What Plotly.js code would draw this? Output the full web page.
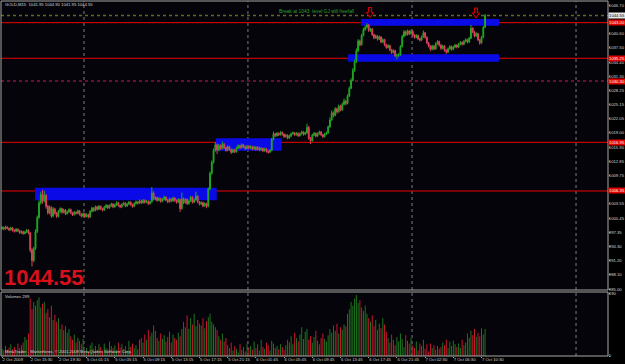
<!DOCTYPE html>
<html><head><meta charset="utf-8">
<script src="https://cdn.plot.ly/plotly-3.0.1.min.js"></script>
<style>html,body{margin:0;padding:0;background:#000;}#chart{width:625px;height:364px;}</style>
</head><body><div id="chart"></div>
<script>
// ---- data ----
const tickIdx = [0,16,32,48,64,80,96,112,128,144,160,176,192,208,224,240,256,272];
const tickText = ["2 Oct 2009","2 Oct 15:30","2 Oct 19:30","5 Oct 01:15","5 Oct 05:15","5 Oct 09:15","5 Oct 13:15","5 Oct 17:15","5 Oct 21:15","6 Oct 01:45","6 Oct 05:45","6 Oct 09:45","6 Oct 13:45","6 Oct 17:45","6 Oct 21:45","7 Oct 02:30","7 Oct 06:30","7 Oct 10:30"];
const priceTicks = [1046.70,1040.60,1037.50,1034.40,1031.30,1028.25,1025.15,1022.05,1019.00,1015.90,1012.85,1009.75,1003.55,1000.45,997.35,994.30,991.20,988.10,985.00];
const volTicks = [0,690];
const levels = [1043.00,1035.25,1030.30,1016.95,1006.35];
const bidPrice = 1044.55;
const dayLines = [46.5,139.5,232.6,325.6];
const zones = [[203.6,281.9,1042.35,1043.80],[196.3,281.9,1034.50,1036.12],[121.2,158.7,1015.12,1017.82],[18.7,121.8,1004.32,1007.07]];

const open = [998.2,998.4,998.1,998.5,998.2,997.9,998.3,997.8,997.6,998.0,
997.7,997.3,997.5,997.1,997.4,997.8,997.2,993.5,991.2,993.8,
997.5,1000.6,1003.8,1005.6,1004.2,1005.4,1003.0,1001.6,1002.8,1000.9,
1002.4,1001.5,1000.8,1001.9,1002.5,1001.7,1002.2,1001.4,1001.8,1002.3,
1001.6,1001.2,1001.7,1001.5,1002.0,1001.3,1000.9,1001.4,1000.8,1001.2,
1000.7,1001.9,1002.6,1002.1,1002.9,1002.4,1003.0,1002.5,1002.2,1002.8,
1003.2,1002.7,1003.1,1003.5,1002.9,1003.3,1003.8,1003.2,1002.9,1003.4,
1003.7,1003.1,1003.5,1003.9,1003.4,1003.0,1003.6,1004.0,1003.7,1004.2,
1003.8,1004.3,1003.9,1004.1,1003.6,1004.0,1005.9,1004.6,1004.9,1004.3,
1004.7,1004.1,1004.5,1005.0,1004.4,1004.0,1004.6,1004.2,1004.8,1004.3,
1003.9,1004.5,1002.5,1004.6,1003.8,1004.5,1003.6,1004.2,1005.0,1003.9,
1004.4,1005.2,1004.0,1003.5,1003.8,1003.1,1003.6,1003.0,1006.8,1010.2,
1012.6,1015.2,1016.4,1015.3,1016.2,1015.6,1016.5,1015.8,1015.2,1016.0,
1015.4,1014.8,1015.3,1014.9,1015.7,1016.2,1015.8,1016.4,1016.0,1015.6,
1016.1,1015.7,1016.0,1015.5,1015.9,1015.4,1015.8,1015.3,1015.6,1015.1,
1015.5,1015.0,1014.8,1015.2,1017.6,1018.8,1018.4,1018.9,1018.6,1019.1,
1018.7,1018.2,1018.5,1017.9,1018.3,1018.8,1019.0,1018.6,1018.9,1018.4,
1018.8,1019.2,1018.7,1019.0,1020.2,1017.8,1017.3,1018.5,1018.9,1018.3,
1018.8,1019.2,1018.6,1018.2,1018.7,1019.0,1020.3,1021.8,1023.4,1022.8,
1024.2,1023.6,1024.8,1024.0,1025.2,1025.9,1025.4,1027.0,1028.7,1030.4,
1032.6,1034.5,1036.9,1039.0,1038.2,1040.2,1041.5,1042.0,1042.5,1041.3,
1041.6,1040.4,1039.7,1040.1,1039.4,1039.9,1038.8,1039.3,1038.2,1037.6,
1038.0,1037.1,1036.5,1036.9,1035.8,1035.9,1036.0,1037.8,1040.0,1041.0,
1040.4,1041.2,1040.6,1041.1,1040.3,1039.8,1040.2,1039.5,1039.2,1039.9,
1040.8,1039.8,1038.6,1037.9,1037.2,1037.9,1037.3,1038.4,1038.9,1038.1,
1037.4,1037.9,1037.0,1036.6,1037.3,1037.8,1037.2,1037.7,1038.1,1037.7,
1038.3,1038.7,1038.3,1038.9,1039.3,1038.8,1039.6,1041.8,1041.0,1040.1,
1040.6,1039.3,1038.6,1039.8,1041.95];

const high = [998.7,998.6,998.8,998.7,998.4,998.6,998.5,998.0,998.3,998.2,
997.9,997.8,997.7,997.7,998.1,998.0,997.4,993.9,994.2,998.0,
1001.0,1004.3,1006.2,1006.6,1006.4,1005.7,1003.3,1003.2,1003.0,1002.8,
1002.7,1001.8,1002.2,1002.8,1002.7,1002.5,1002.4,1002.1,1002.6,1002.5,
1001.8,1002.0,1001.9,1002.3,1002.2,1001.5,1001.7,1001.6,1001.5,1001.4,
1002.2,1002.9,1002.8,1003.2,1003.1,1003.3,1003.2,1002.7,1003.1,1003.5,
1003.4,1003.4,1003.8,1003.7,1003.6,1004.1,1004.0,1003.4,1003.7,1004.0,
1003.9,1003.8,1004.2,1004.1,1003.6,1003.9,1004.3,1004.2,1004.5,1004.4,
1004.6,1004.5,1004.4,1004.3,1004.3,1007.2,1006.3,1005.2,1005.1,1005.0,
1004.9,1004.8,1005.3,1005.2,1004.6,1004.9,1004.8,1005.1,1005.0,1004.5,
1004.8,1004.7,1006.0,1004.9,1004.8,1004.7,1004.5,1005.3,1005.2,1004.7,
1006.2,1005.4,1004.2,1004.1,1004.0,1003.9,1003.8,1007.1,1010.6,1013.0,
1015.6,1017.0,1016.7,1016.6,1016.5,1017.1,1016.8,1016.0,1016.3,1016.2,
1015.6,1015.6,1015.5,1016.0,1016.5,1016.4,1016.7,1016.6,1016.2,1016.4,
1016.3,1016.3,1016.2,1016.2,1016.1,1016.1,1016.0,1015.9,1015.8,1015.8,
1015.7,1015.2,1015.5,1017.9,1019.3,1019.0,1019.2,1019.1,1019.4,1019.3,
1018.9,1018.8,1018.7,1018.6,1019.1,1019.3,1019.2,1019.2,1019.1,1019.1,
1019.5,1019.4,1019.3,1021.0,1020.5,1018.1,1018.8,1019.2,1019.1,1019.1,
1019.5,1019.4,1018.8,1019.0,1019.3,1020.6,1022.4,1023.9,1023.7,1024.6,
1024.5,1025.2,1025.1,1025.6,1026.5,1026.2,1027.4,1029.1,1030.9,1033.1,
1035.0,1037.4,1039.4,1039.3,1040.6,1041.9,1042.4,1042.9,1042.7,1041.9,
1041.8,1040.6,1040.4,1040.3,1040.2,1040.1,1039.6,1039.5,1038.4,1038.3,
1038.2,1037.3,1037.2,1037.1,1036.2,1036.4,1038.1,1040.4,1041.4,1041.3,
1041.5,1041.4,1041.5,1041.3,1040.5,1040.5,1040.4,1039.7,1040.2,1041.3,
1041.0,1040.0,1038.8,1038.1,1038.2,1038.1,1038.7,1039.2,1039.1,1038.3,
1038.2,1038.1,1037.2,1037.6,1038.1,1038.0,1038.0,1038.4,1038.3,1038.6,
1039.0,1038.9,1039.2,1039.6,1039.5,1039.9,1042.5,1042.0,1041.2,1040.9,
1040.8,1039.5,1040.1,1042.3,1044.90];

const low = [997.9,997.8,997.9,998.0,997.6,997.7,997.5,997.3,997.4,997.4,
997.0,997.0,996.8,996.9,997.2,996.9,993.0,989.9,990.8,993.5,
997.2,1000.3,1003.4,1003.6,1003.9,1002.5,1001.2,1001.3,1000.5,1000.6,
1001.2,1000.5,1000.6,1001.6,1001.4,1001.5,1001.1,1001.2,1001.6,1001.3,
1000.9,1001.0,1001.2,1001.3,1001.0,1000.6,1000.7,1000.5,1000.6,1000.4,
1000.5,1001.7,1001.8,1001.9,1002.1,1002.2,1002.2,1001.9,1002.0,1002.6,
1002.4,1002.5,1002.9,1002.6,1002.7,1003.1,1002.9,1002.6,1002.7,1003.2,
1002.8,1002.9,1003.3,1003.1,1002.7,1002.8,1003.4,1003.4,1003.5,1003.5,
1003.6,1003.6,1003.7,1003.3,1003.4,1003.8,1004.3,1004.3,1004.0,1004.1,
1003.8,1003.9,1004.3,1004.1,1003.7,1003.8,1003.9,1004.0,1004.0,1003.6,
1003.7,1001.8,1002.3,1003.5,1003.6,1003.3,1003.4,1004.0,1003.6,1003.7,
1004.2,1003.7,1003.2,1003.3,1002.8,1002.9,1002.6,1002.8,1006.5,1009.9,
1012.3,1014.9,1014.4,1015.0,1015.3,1015.4,1015.5,1014.9,1015.0,1015.1,
1014.4,1014.6,1014.6,1014.7,1015.5,1015.5,1015.6,1015.7,1015.3,1015.4,
1015.4,1015.5,1015.2,1015.3,1015.1,1015.2,1015.0,1015.1,1014.8,1014.9,
1014.7,1014.5,1014.6,1015.0,1017.4,1018.1,1018.2,1018.3,1018.4,1018.4,
1017.9,1018.0,1017.6,1017.7,1018.1,1018.6,1018.3,1018.4,1018.1,1018.2,
1018.6,1018.4,1018.5,1018.8,1017.5,1016.6,1017.1,1018.3,1018.0,1018.1,
1018.6,1018.3,1017.9,1018.0,1018.5,1018.8,1020.1,1021.6,1022.4,1022.6,
1023.2,1023.4,1023.7,1023.8,1025.0,1025.0,1025.2,1026.8,1028.5,1030.2,
1032.3,1034.2,1036.6,1037.8,1038.0,1040.0,1041.2,1041.7,1041.0,1041.0,
1040.1,1039.4,1039.5,1039.1,1039.2,1038.5,1038.6,1037.9,1037.3,1037.4,
1036.8,1036.2,1036.3,1035.5,1035.0,1035.5,1035.8,1037.6,1039.8,1040.1,
1040.2,1040.3,1040.4,1040.0,1039.5,1039.6,1039.2,1038.9,1039.0,1039.7,
1039.5,1038.3,1037.6,1036.8,1037.0,1037.0,1037.1,1038.2,1037.8,1037.1,
1037.2,1036.7,1036.2,1036.4,1037.1,1036.9,1037.0,1037.5,1037.4,1037.5,
1038.1,1038.0,1038.1,1038.7,1038.5,1038.6,1039.4,1040.7,1039.8,1039.9,
1039.0,1038.2,1038.4,1039.6,1041.95];

const close = [998.4,998.1,998.5,998.2,997.9,998.3,997.8,997.6,998.0,997.7,
997.3,997.5,997.1,997.4,997.8,997.2,993.5,991.2,993.8,997.5,
1000.6,1003.8,1005.6,1004.2,1005.4,1003.0,1001.6,1002.8,1000.9,1002.4,
1001.5,1000.8,1001.9,1002.5,1001.7,1002.2,1001.4,1001.8,1002.3,1001.6,
1001.2,1001.7,1001.5,1002.0,1001.3,1000.9,1001.4,1000.8,1001.2,1000.7,
1001.9,1002.6,1002.1,1002.9,1002.4,1003.0,1002.5,1002.2,1002.8,1003.2,
1002.7,1003.1,1003.5,1002.9,1003.3,1003.8,1003.2,1002.9,1003.4,1003.7,
1003.1,1003.5,1003.9,1003.4,1003.0,1003.6,1004.0,1003.7,1004.2,1003.8,
1004.3,1003.9,1004.1,1003.6,1004.0,1005.9,1004.6,1004.9,1004.3,1004.7,
1004.1,1004.5,1005.0,1004.4,1004.0,1004.6,1004.2,1004.8,1004.3,1003.9,
1004.5,1002.5,1004.6,1003.8,1004.5,1003.6,1004.2,1005.0,1003.9,1004.4,
1005.2,1004.0,1003.5,1003.8,1003.1,1003.6,1003.0,1006.8,1010.2,1012.6,
1015.2,1016.4,1015.3,1016.2,1015.6,1016.5,1015.8,1015.2,1016.0,1015.4,
1014.8,1015.3,1014.9,1015.7,1016.2,1015.8,1016.4,1016.0,1015.6,1016.1,
1015.7,1016.0,1015.5,1015.9,1015.4,1015.8,1015.3,1015.6,1015.1,1015.5,
1015.0,1014.8,1015.2,1017.6,1018.8,1018.4,1018.9,1018.6,1019.1,1018.7,
1018.2,1018.5,1017.9,1018.3,1018.8,1019.0,1018.6,1018.9,1018.4,1018.8,
1019.2,1018.7,1019.0,1020.2,1017.8,1017.3,1018.5,1018.9,1018.3,1018.8,
1019.2,1018.6,1018.2,1018.7,1019.0,1020.3,1021.8,1023.4,1022.8,1024.2,
1023.6,1024.8,1024.0,1025.2,1025.9,1025.4,1027.0,1028.7,1030.4,1032.6,
1034.5,1036.9,1039.0,1038.2,1040.2,1041.5,1042.0,1042.5,1041.3,1041.6,
1040.4,1039.7,1040.1,1039.4,1039.9,1038.8,1039.3,1038.2,1037.6,1038.0,
1037.1,1036.5,1036.9,1035.8,1035.9,1036.0,1037.8,1040.0,1041.0,1040.4,
1041.2,1040.6,1041.1,1040.3,1039.8,1040.2,1039.5,1039.2,1039.9,1040.8,
1039.8,1038.6,1037.9,1037.2,1037.9,1037.3,1038.4,1038.9,1038.1,1037.4,
1037.9,1037.0,1036.6,1037.3,1037.8,1037.2,1037.7,1038.1,1037.7,1038.3,
1038.7,1038.3,1038.9,1039.3,1038.8,1039.6,1041.8,1041.0,1040.1,1040.6,
1039.3,1038.6,1039.8,1041.95,1044.55];

const volume = [80,60,110,70,95,130,75,100,60,140,90,120,150,210,180,
250,640,520,
600,560,620,650,540,580,600,480,520,430,560,400,460,
380,420,300,350,290,330,260,300,220,180,240,150,200,170,130,190,
60,90,45,120,150,80,110,70,130,100,60,140,90,75,160,110,85,120,70,150,95,130,80,110,60,170,100,140,90,120,75,180,
200,150,240,180,290,220,260,340,280,200,170,250,190,230,160,210,270,150,240,200,180,260,220,300,
380,320,450,300,420,350,470,330,400,360,
340,420,310,390,430,470,380,350,320,
290,220,180,250,160,200,
120,90,150,60,110,80,40,130,70,100,50,140,90,
110,70,160,90,130,60,180,100,80,150,120,60,170,140,90,110,75,130,100,65,120,
180,150,220,130,260,200,160,240,320,190,270,300,180,220,150,210,280,170,130,200,250,190,160,230,
300,260,340,280,360,250,320,290,350,330,
470,520,600,560,640,680,590,620,540,500,560,
470,420,380,450,330,400,290,360,310,420,350,
270,200,150,240,180,120,210,160,250,190,100,230,170,140,
200,120,90,160,60,140,110,180,80,130,50,
140,90,120,70,110,80,100,
150,120,180,90,160,110,170,130,100,140,90,180,120,150,
250,200,280,230,300,210,260,220,310,240,299];

// ---- layout helpers (pixel -> paper) ----
const PL=1, PR=608, PT=1, PB=356;
const px = p => (p-PL)/(PR-PL);
const py = p => (PB-p)/(PB-PT);
const idx = close.map((_, i) => i);
const BULL='#22a822', BEAR='#e0405c';
const volColors = close.map((c,i)=> c>=open[i] ? '#1f7a1f' : '#cc1a30');
const FONT='Liberation Sans, Arial, sans-serif';
const TXT='#d4d4d4';
const FS=4.2;

const traces = [
 {type:'candlestick', x:idx, open:open, high:high, low:low, close:close, xaxis:'x', yaxis:'y',
  increasing:{line:{color:BULL,width:1},fillcolor:BULL},
  decreasing:{line:{color:BEAR,width:1},fillcolor:BEAR},
  whiskerwidth:0, hoverinfo:'skip'},
 {type:'bar', x:idx, y:volume, xaxis:'x', yaxis:'y2', width:0.55,
  marker:{color:volColors, line:{width:0}}, hoverinfo:'skip'}
];

const shapes = [];
zones.forEach(z => shapes.push({type:'rect', xref:'x', yref:'y', x0:z[0], x1:z[1], y0:z[2], y1:z[3],
  fillcolor:'#0a0ae6', line:{width:0}, layer:'below'}));
dayLines.forEach(d => shapes.push({type:'line', xref:'x', yref:'paper', x0:d, x1:d, y0:0, y1:1,
  line:{color:'#7c7c7c', width:1, dash:'dot'}, layer:'below'}));
levels.forEach((lv,k) => shapes.push({type:'line', xref:'paper', yref:'y', x0:0, x1:1, y0:lv, y1:lv,
  line:{color: k===2 ? '#c4205a' : '#ee0000', width:1, dash: k===2 ? 'dot' : 'solid'}, layer:'below'}));
shapes.push({type:'line', xref:'paper', yref:'y', x0:0, x1:1, y0:bidPrice, y1:bidPrice,
  line:{color:'#66662a', width:1.5, dash:'dot'}, layer:'below'});
// pane frames
shapes.push({type:'rect', xref:'paper', yref:'paper', x0:0, x1:1, y0:py(290), y1:1, line:{color:'#a8a8a8', width:1}, fillcolor:'rgba(0,0,0,0)'});
shapes.push({type:'rect', xref:'paper', yref:'paper', x0:0, x1:1, y0:0, y1:py(292), line:{color:'#a8a8a8', width:1}, fillcolor:'rgba(0,0,0,0)'});
// hand-drawn hollow down arrows (chart objects)
function arrowPath(cx, top){
  const pts=[[cx-1.6,top],[cx+1.6,top],[cx+1.6,top+5],[cx+3.6,top+5],[cx,top+10],[cx-3.6,top+5],[cx-1.6,top+5]];
  return 'M'+pts.map(p=>px(p[0]).toFixed(5)+','+py(p[1]).toFixed(5)).join(' L')+' Z';
}
[[370,7.5],[476,8]].forEach(a => shapes.push({type:'path', xref:'paper', yref:'paper', path:arrowPath(a[0],a[1]),
  line:{color:'#e00000', width:1}, fillcolor:'#1a0000'}));

const annotations = [
 {xref:'paper', yref:'paper', x:px(3), y:py(4.5), xanchor:'left', yanchor:'middle', showarrow:false,
  text:'GOLD,M15  1041.95 1044.90 1041.95 1044.55', font:{family:FONT, size:FS, color:TXT}},
 {xref:'paper', yref:'paper', x:px(277), y:py(12), xanchor:'left', yanchor:'middle', showarrow:false,
  text:'Break at 1043  level GJ will freefall', font:{family:FONT, size:4.9, color:'#2aa02a'}},
 {xref:'paper', yref:'paper', x:px(2), y:py(277), xanchor:'left', yanchor:'middle', showarrow:false,
  text:'<b>1044.55</b>', font:{family:FONT, size:22, color:'#d8101c'}},
 {xref:'paper', yref:'paper', x:px(3), y:py(296.5), xanchor:'left', yanchor:'middle', showarrow:false,
  text:'Volumes 299', font:{family:FONT, size:FS, color:TXT}},
 {xref:'paper', yref:'paper', x:px(3), y:py(351.5), xanchor:'left', yanchor:'middle', showarrow:false,
  text:'MetaTrader - Marketforex, © 2001-2009 MetaQuotes Software Corp.', font:{family:FONT, size:FS, color:TXT}},
 {xref:'paper', yref:'y', x:1, y:bidPrice, xanchor:'left', yanchor:'middle', showarrow:false,
  text:bidPrice.toFixed(2), bgcolor:'#e8e8e8', borderpad:0, width:16, height:5, font:{family:FONT, size:FS, color:'#000'}}
];
levels.forEach(lv => annotations.push({xref:'paper', yref:'y', x:1, y:lv, xanchor:'left', yanchor:'middle', showarrow:false,
  text:lv.toFixed(2), bgcolor:'#e00000', borderpad:0, width:16, height:5, font:{family:FONT, size:FS, color:'#ffffff'}}));

const layout = {
 width:625, height:364, paper_bgcolor:'#000000', plot_bgcolor:'#05040a',
 margin:{l:PL, r:625-PR, t:PT, b:364-PB}, showlegend:false, dragmode:false,
 xaxis:{range:[(PL-2)/1.763,(PR-2)/1.763], anchor:'y2', tickmode:'array', tickvals:tickIdx, ticktext:tickText,
   ticklabelposition:'outside right', tickangle:0, ticks:'outside', ticklen:1, tickcolor:'#999', ticklabelstandoff:-1,
   tickfont:{family:FONT,size:FS,color:TXT},
   showgrid:false, zeroline:false, showline:false, rangeslider:{visible:false}, fixedrange:true},
 yaxis:{domain:[py(290),1], range:[984.79,1047.72], side:'right', tickmode:'array', tickvals:priceTicks,
   ticktext:priceTicks.map(v=>v.toFixed(2)), ticks:'outside', ticklen:1, tickcolor:'#999', ticklabelstandoff:-2,
   tickfont:{family:FONT,size:FS,color:TXT}, showgrid:false, zeroline:false, fixedrange:true},
 yaxis2:{domain:[0,py(292)], range:[0,712], side:'right', tickmode:'array', tickvals:volTicks,
   ticktext:volTicks.map(String), ticks:'outside', ticklen:1, tickcolor:'#999', ticklabelstandoff:-2,
   tickfont:{family:FONT,size:FS,color:TXT}, showgrid:false, zeroline:false, fixedrange:true},
 shapes:shapes, annotations:annotations, bargap:0.4
};
Plotly.newPlot('chart', traces, layout, {staticPlot:true, displayModeBar:false});
</script></body></html>
